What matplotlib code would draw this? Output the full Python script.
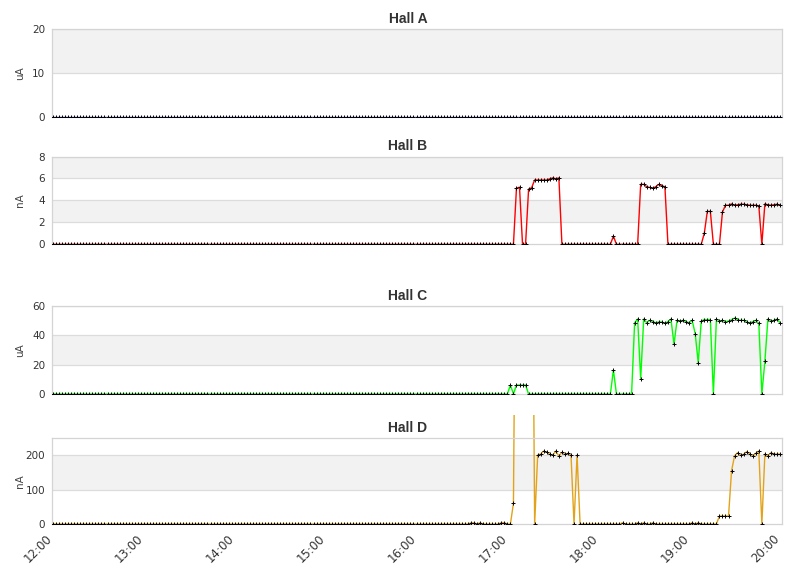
import pandas as pd
import numpy as np
import matplotlib
matplotlib.use('Agg')
import matplotlib.pyplot as plt
import matplotlib.dates as mdates
from matplotlib.patches import Rectangle

# ------------------------------------------------------------
# data : one reading every 2 minutes, 12:00 -> 20:00
# ------------------------------------------------------------

times = pd.date_range('2000-01-01 12:00', '2000-01-01 20:00', freq='2min')

hall_a = [0.0] * 241

hall_b = ([0.0] * 153
          + [5.12, 5.2, 0, 0, 5.03, 5.15, 5.86, 5.86, 5.86, 5.86, 5.86, 5.97, 6.05, 5.97, 6.05]
          + [0.0] * 17 + [0.74] + [0.0] * 8
          + [5.46, 5.46, 5.25, 5.18, 5.1, 5.25, 5.46, 5.33, 5.25]
          + [0.0] * 12 + [1.0, 3.0, 3.0] + [0.0] * 3 + [2.94]
          + [3.56, 3.56, 3.68, 3.56, 3.6, 3.65, 3.65, 3.6, 3.56, 3.56, 3.56, 3.5]
          + [0.0] + [3.68, 3.6, 3.56, 3.6, 3.65, 3.56])

hall_c = ([0.0] * 151 + [6.1, 0, 6.1, 6.1, 6.1, 6.1]
          + [0.0] * 28 + [16.4] + [0.0] * 6
          + [48.6, 51.1, 10.5, 51.1, 48.6, 50.2, 49.3, 48.6, 49.1, 49.1, 48.2, 49.3, 51.1,
             33.9, 50.2, 49.8, 50.2, 49.3, 48.6, 50.2, 41.1, 21.4, 49.8, 50.7, 50.7, 50.7]
          + [0.0]
          + [51.1, 49.8, 50.2, 49.3, 49.8, 50.6, 51.8, 50.6, 50.2, 50.2, 49.0, 48.6, 49.3, 50.2, 48.2]
          + [0.0] + [22.3, 51.1, 49.8, 50.2, 51.1, 48.6])

hall_d = ([0.0] * 138 + [3.5, 3.5, 0, 3.5] + [0.0] * 6 + [3.9, 3.9, 0, 0, 60]
          + [1200.0] * 6 + [0.0]
          + [200, 203, 211.6, 207.7, 202, 200, 211.6, 197, 207.7, 202, 205, 200]
          + [0.0, 200] + [0.0] * 14 + [3.5] + [0.0] * 4 + [3.5, 0, 3.5, 0, 0, 3.5]
          + [0.0] * 12 + [3.5, 0, 3.5] + [0.0] * 6 + [23, 23, 23, 23, 154.6]
          + [198, 206.8, 200, 202, 210, 203, 197, 205, 212]
          + [0.0] + [203, 198, 206.8, 203, 203, 203])

titles = ['Hall A', 'Hall B', 'Hall C', 'Hall D']
units = ['uA', 'nA', 'uA', 'nA']
series = [hall_a, hall_b, hall_c, hall_d]
colors = ['#3050ff', '#ff0000', '#00ff00', '#e2a31a']
yticks = [[0, 10, 20], [0, 2, 4, 6, 8], [0, 20, 40, 60], [0, 100, 200]]
ylims = [20, 8, 60, 250]

# ------------------------------------------------------------
# figure
# ------------------------------------------------------------

fig = plt.figure(figsize=(8.11, 5.78), dpi=100)
fig.patch.set_facecolor('white')

W, H = 811, 578
left, right = 52.3, 782.3
boxes = [(29, 117.3), (156.5, 244.3), (306, 394), (437.8, 524)]

x0 = mdates.date2num(times[0]) - 0.45 / 1440
x1 = mdates.date2num(times[-1]) + 1.5 / 1440

for i, (top, bot) in enumerate(boxes):
    ax = fig.add_axes([left / W, 1 - bot / H, (right - left) / W, (bot - top) / H])

    ticks = yticks[i]
    ax.set_ylim(0, ylims[i])
    ax.set_xlim(x0, x1)

    # alternating bands
    edges = ticks + [ylims[i]] if ticks[-1] < ylims[i] else ticks
    for k in range(len(edges) - 1):
        if k % 2 == 1:
            ax.axhspan(edges[k], edges[k + 1], color='#f2f2f2', zorder=0, lw=0)
    for t in ticks[1:]:
        ax.axhline(t, color='#dcdcdc', lw=0.9, zorder=1)

    line, = ax.plot(times, series[i], color=colors[i], lw=1.0, zorder=2)
    marks, = ax.plot(times, series[i], ls='none', marker='+', ms=2.6,
                     mew=0.7, color='black', zorder=3)
    if i == 3:
        # spikes run up past the panel
        clip = Rectangle((0, 0), 1, 1.265, transform=ax.transAxes)
        line.set_clip_path(clip)
        marks.set_clip_path(clip)

    ax.set_yticks(ticks)
    ax.tick_params(axis='y', length=0, pad=5, labelsize=7.5, labelcolor='#333333')
    ax.tick_params(axis='x', length=0)

    for sp in ax.spines.values():
        sp.set_color('#d4d4d4')
        sp.set_linewidth(0.9)

    # titles sit at the middle of the figure
    ax.set_title(titles[i], fontsize=10, fontweight='bold', color='#333333',
                 family='Liberation Sans', pad=4.5, x=(408 - left) / (right - left))
    ax.set_ylabel(units[i], fontsize=7.5, color='#444444')
    ax.yaxis.set_label_coords(-0.037, 0.5)

    ax.xaxis.set_major_locator(mdates.HourLocator())
    ax.xaxis.set_major_formatter(mdates.DateFormatter('%H:%M'))
    if i < 3:
        ax.tick_params(axis='x', labelbottom=False)
    else:
        ax.tick_params(axis='x', labelsize=8.5, labelcolor='#333333', pad=11)
        for lab in ax.get_xticklabels():
            lab.set_rotation(45)
            lab.set_ha('right')
            lab.set_va('baseline')
            lab.set_rotation_mode('anchor')

plt.savefig('out.png', dpi=100)
